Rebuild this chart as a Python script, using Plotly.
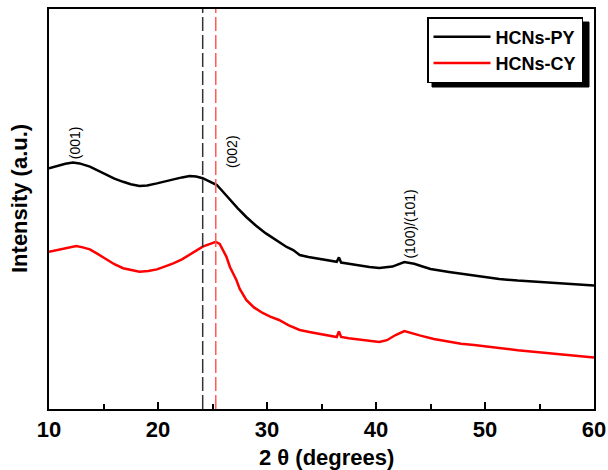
import plotly.graph_objects as go

# ---- data (arbitrary intensity units) ----
two_theta_py = [10.0, 10.5, 11.0, 11.5, 12.2, 12.8, 13.75, 14.5, 15.3, 16.0, 16.8, 17.5,
                18.3, 19.0, 19.9, 20.6, 21.4, 22.2, 22.9, 23.5, 24.1, 24.7, 25.4, 25.9,
                26.6, 27.3, 28.1, 29.0, 29.9, 30.5, 31.2, 31.8, 32.4, 33.0, 33.8, 34.8,
                35.6, 36.4, 36.6, 36.8, 37.5, 38.5, 39.4, 40.3, 41.5, 42.6, 43.5, 44.2,
                45.0, 46.7, 47.8, 49.0, 50.0, 51.3, 53.0, 55.0, 57.0, 59.5, 60.0]
intensity_py = [60.2, 60.6, 61.0, 61.3, 61.6, 61.4, 60.6, 59.6, 58.5, 57.6, 56.8, 56.2,
                55.75, 55.9, 56.4, 56.9, 57.4, 57.9, 58.25, 58.1, 57.7, 57.0, 56.0, 54.5,
                52.25, 50.2, 48.0, 45.8, 43.9, 42.8, 41.5, 40.5, 39.75, 38.5, 38.0, 37.5,
                37.1, 36.8, 37.9, 36.6, 36.3, 35.8, 35.5, 35.25, 35.6, 36.75, 36.3, 35.7,
                35.0, 34.25, 33.8, 33.3, 33.0, 32.5, 32.1, 31.8, 31.4, 31.0, 30.9]

two_theta_cy = [10.0, 10.5, 11.0, 11.8, 12.5, 13.1, 13.75, 14.5, 15.3, 16.0, 16.8, 17.5,
                18.3, 19.1, 19.9, 20.6, 21.4, 22.2, 22.9, 23.5, 24.1, 24.6, 25.05, 25.3,
                25.66, 26.27, 26.6, 27.19, 27.5, 28.1, 28.8, 29.6, 30.3, 31.1, 32.0, 33.0,
                34.0, 34.8, 35.6, 36.4, 36.6, 36.8, 37.5, 38.5, 39.4, 40.3, 41.0, 41.8,
                42.6, 43.2, 44.0, 45.3, 46.7, 47.8, 49.0, 50.0, 51.3, 53.0, 55.0, 57.0,
                59.5, 60.0]
intensity_cy = [39.3, 39.6, 39.9, 40.4, 40.75, 40.4, 39.9, 38.7, 37.4, 36.2, 35.2, 34.7,
                34.3, 34.5, 34.9, 35.6, 36.4, 37.4, 38.5, 39.6, 40.6, 41.1, 41.6, 41.8,
                41.25, 38.1, 35.5, 32.25, 30.0, 27.25, 25.4, 24.0, 23.1, 22.25, 20.9, 19.75,
                19.2, 18.8, 18.4, 18.0, 19.4, 18.0, 17.7, 17.3, 17.0, 16.75, 17.2, 18.5,
                19.5, 19.0, 18.4, 17.5, 16.75, 16.3, 16.0, 15.6, 15.25, 14.7, 14.2, 13.6,
                13.0, 12.9]

series_names = ["HCNs-PY", "HCNs-CY"]
series_colors = ["black", "#ff0000"]
peak_labels = ["(001)", "(002)", "(100)/(101)"]
peak_x = [12.4, 26.8, 43.1]
peak_y = [66.5, 64.25, 46.3]
ref_lines = [24.1, 25.3]
tick_values = [10, 20, 30, 40, 50, 60]

FONT = "Liberation Sans, Arial, sans-serif"

# pixel -> paper helpers (plot area: x 49..594, y 9..409)
def px_x(p):
    return (p - 49) / 545.0

def px_y(p):
    return (409 - p) / 400.0

fig = go.Figure()
for xs, ys, nm, col in [(two_theta_py, intensity_py, series_names[0], series_colors[0]),
                        (two_theta_cy, intensity_cy, series_names[1], series_colors[1])]:
    fig.add_trace(go.Scatter(x=xs, y=ys, mode="lines", name="<b>" + nm + "</b>",
                             line=dict(color=col, width=2.5)))

# dashed reference lines
fig.add_shape(type="line", xref="x", yref="paper", x0=ref_lines[0], x1=ref_lines[0], y0=0, y1=1,
              line=dict(color="#333333", width=1.5, dash="14px,4px"))
fig.add_shape(type="line", xref="x", yref="paper", x0=ref_lines[1], x1=ref_lines[1], y0=0, y1=1,
              line=dict(color="#ff5a5a", width=1.5, dash="14px,4px"))

# legend drop shadow (legend itself is drawn on top of it)
fig.add_shape(type="rect", xref="paper", yref="paper",
              x0=px_x(432), x1=px_x(589), y0=px_y(87), y1=px_y(22),
              fillcolor="black", line=dict(color="black", width=1), layer="above")

for lab, px, py in zip(peak_labels, peak_x, peak_y):
    fig.add_annotation(x=px, y=py, text=lab, showarrow=False, textangle=-90,
                       font=dict(family=FONT, size=14, color="black"))

fig.add_annotation(xref="paper", yref="paper", x=px_x(19), y=px_y(199),
                   xanchor="center", yanchor="middle",
                   text="<b>Intensity (a.u.)</b>", showarrow=False, textangle=-90,
                   font=dict(family=FONT, size=22, color="black"))
fig.add_annotation(xref="paper", yref="paper", x=px_x(326), y=px_y(457),
                   xanchor="center", yanchor="middle",
                   text="<b>2 θ (degrees)</b>", showarrow=False,
                   font=dict(family=FONT, size=22, color="black"))

fig.update_layout(
    width=608, height=470,
    margin=dict(l=49, r=14, t=9, b=61, autoexpand=False),
    paper_bgcolor="white", plot_bgcolor="white",
    font=dict(family=FONT, color="black"),
    showlegend=True,
    legend=dict(x=px_x(583), xanchor="right", y=px_y(17), yanchor="top",
                bgcolor="white", bordercolor="black", borderwidth=1.5,
                font=dict(family=FONT, size=18, color="black"),
                itemwidth=57, tracegroupgap=0),
)
fig.update_xaxes(range=[10, 60], tickvals=tick_values,
                 ticktext=["<b>%d</b>" % v for v in tick_values],
                 ticks="inside", ticklen=7, tickwidth=2,
                 tickcolor="black", showline=True, linewidth=2, linecolor="black", mirror=True,
                 showgrid=False, zeroline=False, automargin=False,
                 tickfont=dict(family=FONT, size=22, color="black"),
                 minor=dict(tickvals=[15, 25, 35, 45, 55], ticks="inside", ticklen=5,
                            tickwidth=2, tickcolor="black"))
fig.update_yaxes(range=[0, 100], showticklabels=False, ticks="", showline=True, linewidth=2,
                 linecolor="black", mirror=True, showgrid=False, zeroline=False, automargin=False)

fig.write_html("out.html", config={"displayModeBar": False},
               post_script="document.body.style.margin='0';")
